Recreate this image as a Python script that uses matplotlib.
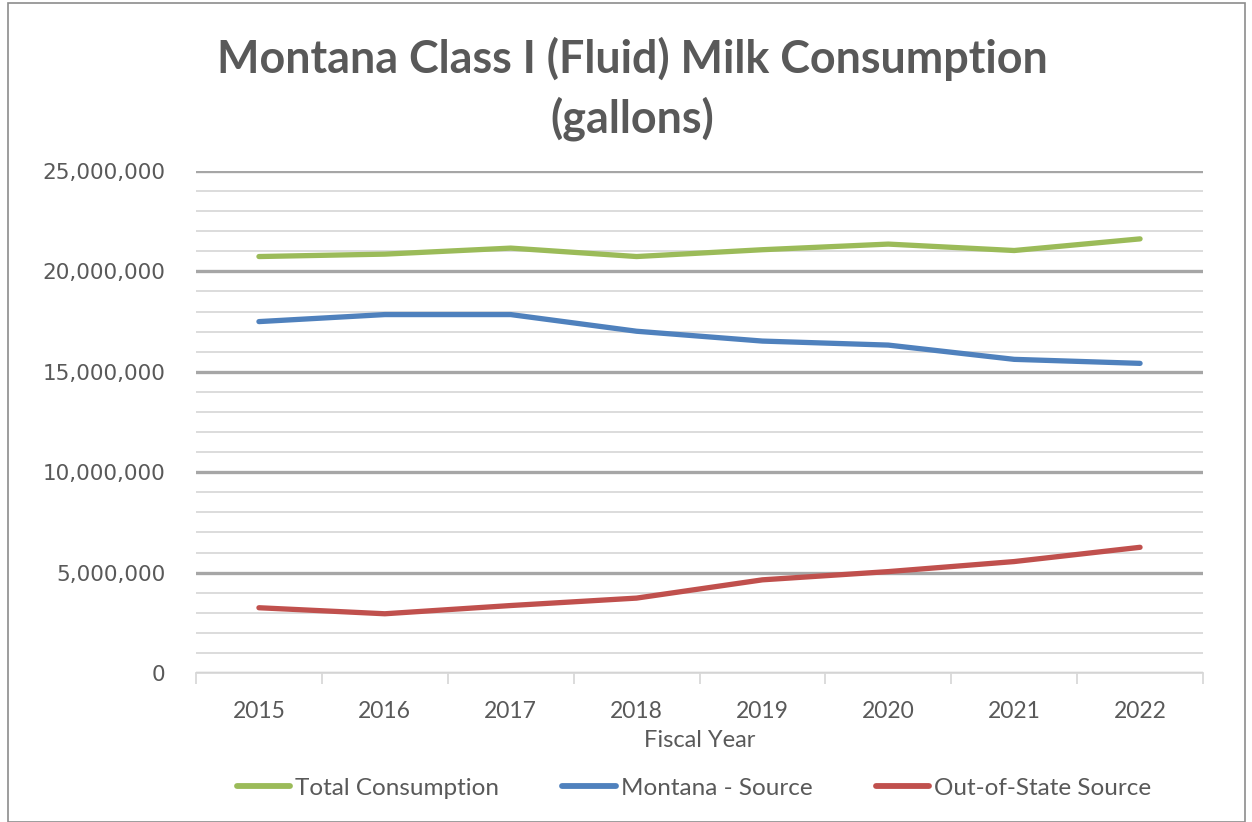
import matplotlib
matplotlib.use("Agg")
import matplotlib.pyplot as plt
from matplotlib.patches import Rectangle
from matplotlib.ticker import FuncFormatter, MultipleLocator, FixedLocator

years = ["2015", "2016", "2017", "2018", "2019", "2020", "2021", "2022"]
total = [20.74e6, 20.86e6, 21.16e6, 20.74e6, 21.08e6, 21.36e6, 21.04e6, 21.62e6]
montana = [17.50e6, 17.85e6, 17.85e6, 17.02e6, 16.53e6, 16.33e6, 15.62e6, 15.42e6]
out_state = [3.25e6, 2.95e6, 3.36e6, 3.73e6, 4.64e6, 5.05e6, 5.55e6, 6.26e6]
series_names = ["Total Consumption", "Montana - Source", "Out-of-State Source"]
colors = ["#9BBB59", "#4F81BD", "#C0504D"]

W, H = 1252, 822
fig = plt.figure(figsize=(W / 100, H / 100), dpi=100)
fig.patch.set_facecolor("white")

# chart border
fig.add_artist(Rectangle((8 / W, 0), (1245 - 8) / W, (H - 3) / H,
                         transform=fig.transFigure, fill=False,
                         edgecolor="#8c8c8c", linewidth=1.2))

ax = fig.add_axes([196 / W, 1 - 673 / H, 1007 / W, (673 - 171) / H])
x = list(range(len(years)))
for vals, name, c in zip([total, montana, out_state], series_names, colors):
    ax.plot(x, vals, color=c, linewidth=3.8, solid_capstyle="round",
            solid_joinstyle="round", label=name, zorder=3)

ax.set_xlim(-0.5, len(years) - 0.5)
ax.set_ylim(0, 25e6)
ax.yaxis.set_major_locator(MultipleLocator(5e6))
ax.yaxis.set_minor_locator(MultipleLocator(1e6))
ax.yaxis.set_major_formatter(FuncFormatter(lambda v, p: f"{int(v):,}"))
ax.grid(axis="y", which="major", color="#a6a6a6", linewidth=2.4, zorder=1)
ax.grid(axis="y", which="minor", color="#d9d9d9", linewidth=1.3, zorder=1)
ax.tick_params(axis="y", which="both", length=0, pad=22,
               labelsize=15.5, labelcolor="#595959")
for lbl in ax.get_yticklabels():
    lbl.set_fontfamily("DejaVu Sans")

ax.set_xticks(x)
ax.set_xticklabels(years, fontfamily="Lato", fontsize=16.5, color="#595959")
ax.xaxis.set_minor_locator(FixedLocator([i - 0.5 for i in range(len(years) + 1)]))
ax.tick_params(axis="x", which="major", length=0, pad=20)
ax.tick_params(axis="x", which="minor", length=8, width=1.3, color="#d9d9d9")
ax.set_xlabel("Fiscal Year", fontfamily="Lato", fontsize=17, color="#595959", labelpad=6)

for s in ["top", "right", "left"]:
    ax.spines[s].set_visible(False)
ax.spines["bottom"].set_color("#d9d9d9")
ax.spines["bottom"].set_linewidth(1.3)
ax.set_facecolor("white")

fig.text(632 / W, 1 - 89 / H, "Montana Class I (Fluid) Milk Consumption\n(gallons)",
         ha="center", va="center", fontfamily="Lato", fontweight="bold",
         fontsize=32.3, color="#595959", linespacing=1.42)

leg = fig.legend(loc="center", bbox_to_anchor=(694 / W, 1 - 788 / H), ncol=3,
                 frameon=False, handlelength=2.2, handletextpad=0.2,
                 columnspacing=2.6, prop={"family": "Lato", "size": 17.5})
for t in leg.get_texts():
    t.set_color("#595959")
for h in leg.get_lines():
    h.set_linewidth(4.2)

fig.savefig("out.png", dpi=100, facecolor="white")
